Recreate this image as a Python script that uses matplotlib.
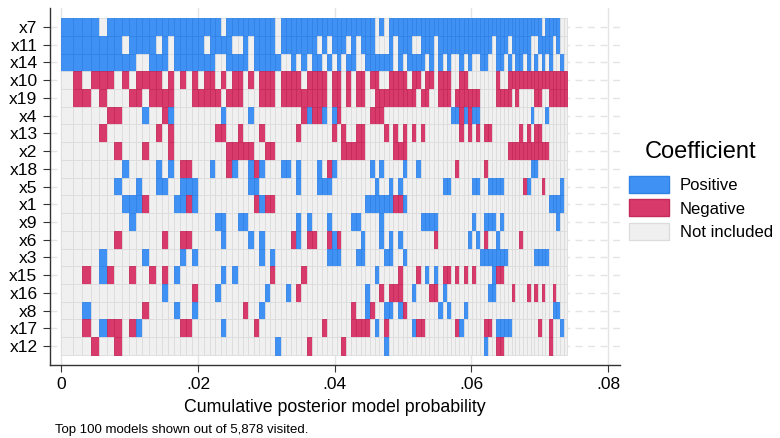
import matplotlib.pyplot as plt
from matplotlib.patches import Patch

# variables, top to bottom
variables = ["x7", "x11", "x14", "x10", "x19", "x4", "x13", "x2", "x18", "x5",
             "x1", "x9", "x6", "x3", "x15", "x16", "x8", "x17", "x12"]

# posterior model probability of the top 100 models (sorted)
model_prob = [
    0.00171, 0.00130, 0.00126, 0.00120, 0.00116, 0.00112, 0.00107, 0.00104, 0.00101, 0.00099,
    0.00097, 0.00095, 0.00093, 0.00091, 0.00090, 0.00089, 0.00088,
    0.00086, 0.00085, 0.00084, 0.00084, 0.00083, 0.00082, 0.00082, 0.00081, 0.00081, 0.00080,
    0.00080, 0.00079, 0.00079, 0.00079, 0.00078, 0.00078, 0.00077, 0.00077, 0.00077, 0.00076,
    0.00076, 0.00076, 0.00075,
    0.00074, 0.00073, 0.00073, 0.00072, 0.00072, 0.00071, 0.00071, 0.00070, 0.00070, 0.00070,
    0.00069, 0.00069, 0.00069, 0.00068, 0.00068, 0.00068, 0.00067, 0.00067, 0.00067, 0.00066,
    0.00066, 0.00066, 0.00066, 0.00065, 0.00065, 0.00065, 0.00064,
    0.00063, 0.00063, 0.00062, 0.00062, 0.00061, 0.00061, 0.00060, 0.00060, 0.00060, 0.00059,
    0.00059, 0.00059, 0.00058, 0.00058, 0.00058, 0.00057, 0.00057, 0.00057, 0.00056, 0.00056,
    0.00056, 0.00055, 0.00055, 0.00055, 0.00055, 0.00054, 0.00054, 0.00054, 0.00053, 0.00053,
    0.00053, 0.00052, 0.00052,
]

# P = positive, N = negative, . = not included (one char per model)
inclusion = {
    "x7":  "PPPP.PPPPPPPPPPPP" + "PPPPPP.PPPPPPPPP.PPPPPP" + "PPPPPPPPPPPPP.P.PPPPPPPPPPP" + "PPPPPPPPPPPPPPPPPPPPPPPPPP.PPPP..",
    "x11": "PPPPPPP.PPPP.P.PP" + "PPP.PPPP..P.PPPP.PPPPPP" + "P.P.PPP.P.PPP...P.PPP..PPP." + "PPPPPPPPPPPPP.PPP.PPPPP..PPPP.P..",
    "x14": "PPPPPPPPP..PPP.PP" + "PPPPP..PPPP.PPPPP..P.P." + "PP.P.P.PP..PPPPPP.P.PPPP.P." + "P.P..P.P..PP..PP.P.PP.P.P.P.P..P.",
    "x10": ".N.NNN.N.NNNN.N.N" + ".N.NN.N.NN.N.NNN.NNNN.N" + "NNN.NN.N.NN.NN..NNNN.NN.NN." + "NNN..NN.......N..NNNNNNNNNNNNNNNN",
    "x19": ".NN.N...NN.NNNN.." + ".NNNNN.NNN...NNN.NNNNNN" + "NNN.NN.N.NN..NNNNNNNNN.NN.." + "NNN.NNNNNN....NNNN.N....NN..NNNNN",
    "x4":  ".....NN...P..NP.." + "......P....P.........NP" + "NNP.PN......NNN............" + "...PPNPNPP.............P...P.....",
    "x13": "....N.......N.N.." + ".....NN..N...N......N.." + "....N.N..NN....N.N.N.N.N..." + ".....N.N.N.NN.......N.N.NN.......",
    "x2":  "......N...N...N.." + ".......NNNNN..NN......." + "......NNNNN......NNN......." + ".................NNNNNNNNNNN.....",
    "x18": ".......P....P.P.N" + "N...P..NP..PNP...PP.P.." + ".P.NP.......P.P....P..P...." + "....N......N...........PP........",
    "x5":  "......P..P..PP..P" + "PP.........PP.......P.." + ".PPP.........P..P.P........" + ".PP.....PP..PPPP.....NP...N....P.",
    "x1":  ".......PPPN....PP" + "NP..........NPNN......." + "...........PPPPPPNNP......." + "............................PPPP.",
    "x9":  "........P........" + ".....PP..PP.........P.P" + "...P....PP....P........PPPP" + "........P..PPP.P..............P..",
    "x6":  "......N......N..N" + "N.....P....P.P.....NP.N" + "N..NPN....P...P.P.P.......N" + ".......P.P.N..P.....N............",
    "x3":  "....P.....P.....P" + ".P...........P.P......." + "...PPP...PP....PP..P......." + "..........PPPPPPP.......PPPP.....",
    "x15": "..N.PN..N..N.N.P." + "......P.P......N.....N." + ".............P....N...N.P.P" + ".NN.N.N.N....PNN.................",
    "x16": ".............P..." + ".N...P........P...P.N.." + "...........P..N.NNN..P...NN" + ".P..........PP....N...N.N.N..N...",
    "x8":  "..P.......N....P." + ".P........N..P........." + "........N..PN..PP.PN......." + "P.P...P......................PP..",
    "x17": "..N.PNN.NP......N" + "N.....P.....N.........." + "..N.....NNNN.P.N.....PNN..." + "....NP.....NN.PPPP.......N..N..P.",
    "x12": "...N..N.........." + "................P.....N" + "......N........P..........." + "...........P..NN............N....",
}

fill = {"P": "#3f91f4", "N": "#d83a6b", ".": "#f0f0f0"}
edge = {"P": "#3282e6", "N": "#c42a5a", ".": "#dcdcdc"}

lefts = []
total = 0.0
for p in model_prob:
    lefts.append(total)
    total += p

plt.rcParams["font.family"] = ["Liberation Sans", "DejaVu Sans"]

fig = plt.figure(figsize=(7.8, 4.38), dpi=100)
ax = fig.add_axes([0.0641, 0.1667, 0.7308, 0.815])

for i, var in enumerate(variables):
    codes = inclusion[var]
    ax.barh([i] * len(model_prob), model_prob, left=lefts, height=1.0,
            color=[fill[c] for c in codes], edgecolor=[edge[c] for c in codes],
            linewidth=0.6, zorder=2)

ax.set_ylim(19.07, -1.07)
ax.set_xlim(-0.00168, 0.08176)
ax.set_yticks(range(len(variables)))
ax.set_yticklabels(variables, fontsize=12.5)
ax.set_xticks([0, 0.02, 0.04, 0.06, 0.08])
ax.set_xticklabels(["0", ".02", ".04", ".06", ".08"], fontsize=12.5)
ax.set_xlabel("Cumulative posterior model probability", fontsize=12.8, labelpad=5)

ax.grid(axis="y", color="#e4e4e4", linestyle=(0, (5, 4)), linewidth=1, zorder=0)
ax.grid(axis="x", color="#e4e4e4", linewidth=1, zorder=0)
ax.set_axisbelow(True)
for s in ["top", "right"]:
    ax.spines[s].set_visible(False)
for s in ["left", "bottom"]:
    ax.spines[s].set_color("#333333")
    ax.spines[s].set_linewidth(1)
ax.tick_params(axis="both", length=5, color="#333333", pad=4)

handles = [Patch(facecolor=fill["P"], edgecolor=edge["P"]),
           Patch(facecolor=fill["N"], edgecolor=edge["N"]),
           Patch(facecolor=fill["."], edgecolor=edge["."])]
leg = fig.legend(handles, ["Positive", "Negative", "Not included"],
                 title="Coefficient", loc="upper left", bbox_to_anchor=(0.806, 0.678),
                 frameon=False, fontsize=12, title_fontsize=17, borderpad=0, borderaxespad=0,
                 handlelength=2.4, handleheight=1.2, handletextpad=0.65, labelspacing=0.4)
leg._legend_box.sep = 9

fig.text(0.07, 0.012, "Top 100 models shown out of 5,878 visited.", fontsize=9.5)

fig.savefig("out.png", dpi=100)
